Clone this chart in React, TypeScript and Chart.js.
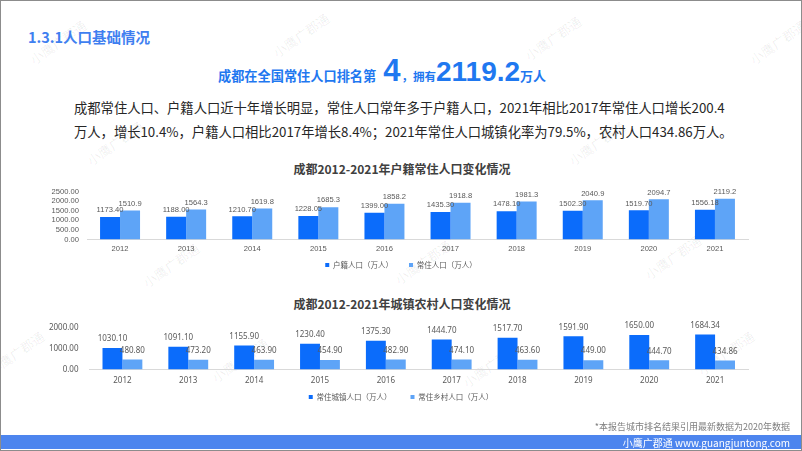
import React, { useEffect, useRef } from "react";
import { Chart, registerables } from "chart.js";
Chart.register(...registerables);

const years = ["2012", "2013", "2014", "2015", "2016", "2017", "2018", "2019", "2020", "2021"];
const hujiPop = [1173.4, 1188.0, 1210.7, 1228.05, 1399.0, 1435.3, 1478.1, 1502.3, 1519.7, 1556.18];
const residentPop = [1510.9, 1564.3, 1619.8, 1685.3, 1858.2, 1918.8, 1981.3, 2040.9, 2094.7, 2119.2];
const urbanPop = [1030.1, 1091.1, 1155.9, 1230.4, 1375.3, 1444.7, 1517.7, 1591.9, 1650.0, 1684.34];
const ruralPop = [480.8, 473.2, 463.9, 454.9, 482.9, 474.1, 463.6, 449.0, 444.7, 434.86];

const chart1Max = 2500;
const chart1Step = 500;
const chart2Max = 2000;
const chart2Step = 1000;

const DARK = "#0b6cfb";
const LIGHT = "#5ea4f7";
const TXT = "#595959";

const watermarks: [number, number][] = [
  [55, 42], [298, 35], [550, 38], [775, 42], [112, 143], [594, 143],
  [168, 265], [420, 262], [670, 257], [13, 353], [237, 360], [488, 365], [723, 353],
];

function labelPlugin(font: string, offset: number, decimals: number[]) {
  return {
    id: "valueLabels",
    afterDatasetsDraw(chart: any) {
      const ctx = chart.ctx;
      ctx.save();
      ctx.font = font;
      ctx.fillStyle = TXT;
      ctx.textAlign = "center";
      ctx.textBaseline = "bottom";
      chart.data.datasets.forEach((ds: any, i: number) => {
        const meta = chart.getDatasetMeta(i);
        meta.data.forEach((bar: any, j: number) => {
          ctx.fillText(Number(ds.data[j]).toFixed(decimals[i]), bar.x, bar.y - offset);
        });
      });
      ctx.restore();
    },
  };
}

function legendPlacePlugin(left: number, right: number, top: number) {
  return {
    id: "legendPlace",
    afterLayout(chart: any) {
      const lg = chart.legend;
      if (!lg) return;
      const h = lg.height;
      lg.left = left;
      lg.right = right;
      lg.width = right - left;
      lg.top = top;
      lg.bottom = top + h;
    },
  };
}

function makeConfig(opts: {
  a: number[]; b: number[]; la: string; lb: string; max: number; step: number;
  family: string; size: number; padTop: number; padBottom: number; yWidth: number; yPad: number;
  xPad: number; labelOffset: number; decimals: number[]; legendTop: number; legendGap: number;
}): any {
  const font = { family: opts.family, size: opts.size };
  return {
    type: "bar",
    data: {
      labels: years,
      datasets: [
        { label: opts.la, data: opts.a, backgroundColor: DARK, categoryPercentage: 0.605, barPercentage: 1 },
        { label: opts.lb, data: opts.b, backgroundColor: LIGHT, categoryPercentage: 0.605, barPercentage: 1 },
      ],
    },
    options: {
      responsive: false,
      animation: false,
      layout: { padding: { left: 0, right: 55, top: opts.padTop, bottom: opts.padBottom } },
      plugins: {
        tooltip: { enabled: false },
        title: { display: false },
        legend: {
          position: "bottom",
          labels: {
            usePointStyle: true,
            pointStyle: "rect",
            boxWidth: 4,
            boxHeight: 4,
            padding: opts.legendGap,
            color: TXT,
            font: { family: '"Noto Sans CJK SC"', size: 7.5 },
          },
        },
      },
      scales: {
        x: {
          grid: { display: false, drawTicks: false },
          border: { display: true, color: "#d9d9d9", width: 1 },
          ticks: { color: TXT, font, padding: opts.xPad, autoSkip: false, maxRotation: 0 },
          afterFit(scale: any) { scale.height = 20; },
        },
        y: {
          min: 0,
          max: opts.max,
          grid: { display: false, drawTicks: false },
          border: { display: false },
          ticks: {
            stepSize: opts.step,
            autoSkip: false,
            color: TXT,
            font,
            padding: opts.yPad,
            callback: (v: any) => Number(v).toFixed(2),
          },
          afterFit(scale: any) { scale.width = opts.yWidth; },
        },
      },
    },
    plugins: [
      labelPlugin(`${opts.size}px ${opts.family}`, opts.labelOffset, opts.decimals),
      legendPlacePlugin(53, 747, opts.legendTop),
    ],
  };
}

export default function App() {
  const c1 = useRef<HTMLCanvasElement>(null);
  const c2 = useRef<HTMLCanvasElement>(null);

  useEffect(() => {
    const ch1 = new Chart(
      c1.current!,
      makeConfig({
        a: hujiPop, b: residentPop, la: "户籍人口（万人）", lb: "常住人口（万人）",
        max: chart1Max, step: chart1Step, family: '"Liberation Sans"', size: 7.6,
        padTop: 9.5, padBottom: 2, yWidth: 86, yPad: 8, xPad: 5,
        labelOffset: 3, decimals: [2, 1], legendTop: 66.25, legendGap: 16,
      })
    );
    const ch2 = new Chart(
      c2.current!,
      makeConfig({
        a: urbanPop, b: ruralPop, la: "常住城镇人口（万人）", lb: "常住乡村人口（万人）",
        max: chart2Max, step: chart2Step, family: '"Noto Sans"', size: 8,
        padTop: 11.3, padBottom: 0, yWidth: 88.5, yPad: 11, xPad: 6,
        labelOffset: 5, decimals: [2, 2], legendTop: 62.25, legendGap: 19,
      })
    );
    return () => { ch1.destroy(); ch2.destroy(); };
  }, []);

  const abs = (l: number, t: number, extra: any = {}) => ({ position: "absolute" as const, left: l, top: t, whiteSpace: "nowrap" as const, ...extra });

  return (
    <div style={{ position: "fixed", left: 0, top: 0, width: 802, height: 451, background: "#fff", overflow: "hidden", fontFamily: '"Noto Sans CJK SC", "Noto Sans", sans-serif', boxSizing: "border-box", border: "1px solid #8c8c8c" }}>
      {watermarks.map(([x, y], i) => (
        <div key={i} style={abs(x - 30, y - 9, { fontSize: 13, color: "rgba(0,0,0,0.07)", transform: "rotate(-35deg)", width: 60, textAlign: "center" })}>小鹰广郡通</div>
      ))}
      <div style={abs(27, 27, { fontSize: 14.5, fontWeight: 700, color: "#3f7ff0", lineHeight: "18px" })}>1.3.1人口基础情况</div>
      <div style={abs(217, 52, { display: "flex", alignItems: "baseline", color: "#1f78f0", fontWeight: 700, lineHeight: "36px" })}>
        <span style={{ fontSize: 13.2 }}>成都在全国常住人口排名第</span>
        <span style={{ fontSize: 31, fontFamily: '"Liberation Sans", sans-serif', margin: "0 1px 0 7px" }}>4</span>
        <span style={{ fontSize: 11.5 }}>，拥有</span>
        <span style={{ fontSize: 28, fontFamily: '"Liberation Sans", sans-serif' }}>2119.2</span>
        <span style={{ fontSize: 13 }}>万人</span>
      </div>
      <div style={abs(73, 97, { fontSize: 13.3, color: "#262626", lineHeight: "20px" })}>成都常住人口、户籍人口近十年增长明显，常住人口常年多于户籍人口，2021年相比2017年常住人口增长200.4</div>
      <div style={abs(73, 121, { fontSize: 13.3, color: "#262626", lineHeight: "20px" })}>万人，增长10.4%，户籍人口相比2017年增长8.4%；2021年常住人口城镇化率为79.5%，农村人口434.86万人。</div>

      <div style={abs(0, 160, { width: 802, textAlign: "center", fontSize: 12, fontWeight: 700, color: "#404040", lineHeight: "16px" })}>成都2012-2021年户籍常住人口变化情况</div>
      <canvas ref={c1} width={802} height={116} style={{ position: "absolute", left: 0, top: 178, width: 802, height: 116 }} />

      <div style={abs(0, 295, { width: 802, textAlign: "center", fontSize: 12, fontWeight: 700, color: "#404040", lineHeight: "16px" })}>成都2012-2021年城镇农村人口变化情况</div>
      <canvas ref={c2} width={802} height={114} style={{ position: "absolute", left: 0, top: 311, width: 802, height: 114 }} />

      <div style={abs(0, 419, { width: 789, textAlign: "right", fontSize: 9, color: "#7f7f7f", lineHeight: "14px" })}>*本报告城市排名结果引用最新数据为2020年数据</div>
      <div style={{ position: "absolute", left: 0, top: 434, width: 800, height: 14, background: "#4d85ee" }} />
      <div style={abs(0, 434, { width: 789, textAlign: "right", fontSize: 10, color: "#fff", lineHeight: "15px" })}>小鹰广郡通 www.guangjuntong.com</div>
    </div>
  );
}
